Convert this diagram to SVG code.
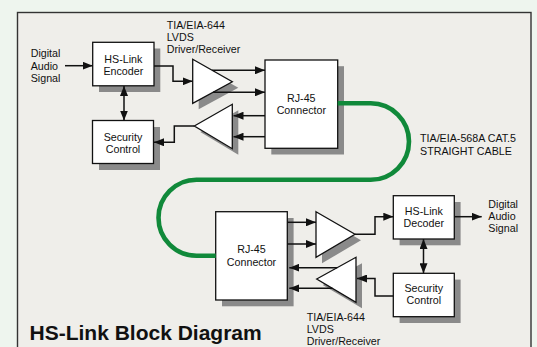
<svg xmlns="http://www.w3.org/2000/svg" width="537" height="347" viewBox="0 0 537 347">
<style>
text{font-family:"Liberation Sans",Arial,sans-serif;font-size:10.7px;fill:#111}
.c{text-anchor:middle}
.box{fill:#fff;stroke:#111;stroke-width:1.3}
.sh{fill:#8a8a8a}
.ln{fill:none;stroke:#111;stroke-width:1.5}
.cable{fill:none;stroke:#10893a;stroke-width:4.6}
.title{font-size:21px;font-weight:bold}
</style>
<defs>
<marker id="ah" viewBox="0 0 10 8" refX="10" refY="4" markerWidth="10" markerHeight="8" markerUnits="userSpaceOnUse" orient="auto-start-reverse">
<path d="M0,0 L10,4 L0,8 z" fill="#111"/>
</marker>
</defs>
<rect x="0" y="0" width="537" height="347" fill="#eef5ee"/>
<rect x="17.5" y="12.5" width="513.5" height="345" fill="#efeeea" stroke="#333" stroke-width="1.4"/>

<g id="input-label">
<text x="30.7" y="57">Digital</text>
<text x="30.7" y="69.5">Audio</text>
<text x="30.7" y="82">Signal</text>
</g>
<g id="encoder">
<rect class="sh" x="99" y="48.5" width="61.3" height="43.5"/>
<rect class="box" x="92.7" y="42.3" width="61.3" height="43.5"/>
<text class="c" x="123.3" y="63.2">HS-Link</text>
<text class="c" x="123.3" y="75">Encoder</text>
</g>
<g id="security-top">
<rect class="sh" x="99" y="127" width="61" height="43"/>
<rect class="box" x="92.5" y="120.5" width="61" height="43"/>
<text class="c" x="123" y="140.6">Security</text>
<text class="c" x="123" y="152.8">Control</text>
</g>
<g id="driver-top">
<polygon class="sh" points="198.7,65.3 238.3,87.7 198.7,109.3"/>
<polygon class="box" points="192.7,59.3 232.3,81.7 192.7,103.3"/>
</g>
<g id="receiver-top">
<polygon class="sh" points="200.3,132 238.3,110.3 238.3,154.7"/>
<polygon class="box" points="194.3,126 232.3,104.3 232.3,148.7"/>
</g>
<g id="lvds-top-label">
<text x="166.7" y="28.6">TIA/EIA-644</text>
<text x="166.7" y="40.6">LVDS</text>
<text x="166.7" y="52.6">Driver/Receiver</text>
</g>
<g id="rj45-top">
<rect class="sh" x="271.3" y="66.2" width="72.7" height="88.3"/>
<rect class="box" x="265" y="60" width="72.7" height="88.3"/>
<text class="c" x="301.3" y="102">RJ-45</text>
<text class="c" x="301.3" y="113.8">Connector</text>
</g>
<g id="cable-label">
<text x="420" y="142">TIA/EIA-568A CAT.5</text>
<text x="420" y="154.5">STRAIGHT CABLE</text>
</g>
<g id="rj45-bottom">
<rect class="sh" x="222" y="218" width="71.6" height="88.3"/>
<rect class="box" x="215.7" y="211.7" width="71.6" height="88.3"/>
<text class="c" x="251.5" y="253.1">RJ-45</text>
<text class="c" x="251.5" y="265.5">Connector</text>
</g>
<g id="driver-bottom">
<polygon class="sh" points="322,217.7 361,240.3 322,263.3"/>
<polygon class="box" points="316,211.7 355,234.3 316,257.3"/>
</g>
<g id="receiver-bottom">
<polygon class="sh" points="322.7,285 362,263.3 362,308.3"/>
<polygon class="box" points="316.7,279 356,257.3 356,302.3"/>
</g>
<g id="decoder">
<rect class="sh" x="399.6" y="202" width="61" height="43.3"/>
<rect class="box" x="393.3" y="195.7" width="61" height="43.3"/>
<text class="c" x="423.8" y="214.8">HS-Link</text>
<text class="c" x="423.8" y="226.5">Decoder</text>
</g>
<g id="security-bottom">
<rect class="sh" x="399.6" y="279.6" width="61" height="43.4"/>
<rect class="box" x="393.3" y="273.3" width="61" height="43.4"/>
<text class="c" x="423.8" y="292.1">Security</text>
<text class="c" x="423.8" y="303.9">Control</text>
</g>
<g id="output-label">
<text x="488.3" y="208">Digital</text>
<text x="488.3" y="220">Audio</text>
<text x="488.3" y="232">Signal</text>
</g>
<g id="lvds-bottom-label">
<text x="306.7" y="320.5">TIA/EIA-644</text>
<text x="306.7" y="332.8">LVDS</text>
<text x="306.7" y="345">Driver/Receiver</text>
</g>
<text class="title" x="29.5" y="340">HS-Link Block Diagram</text>

<g id="connectors">
<path class="cable" d="M337.7,103.3 H370.75 A38.25,38.25 0 0 1 370.75,179.8 H196.5 A38,38 0 0 0 196.5,255.8 H215.7"/>
<path class="ln" marker-end="url(#ah)" d="M65,65.7 H92.7"/>
<path class="ln" marker-end="url(#ah)" d="M154,66 H173 V81.3 H192.7"/>
<path class="ln" marker-start="url(#ah)" marker-end="url(#ah)" d="M124,86 V120.5"/>
<path class="ln" marker-end="url(#ah)" d="M212,70.3 H265"/>
<path class="ln" marker-end="url(#ah)" d="M213,92.3 H265"/>
<path class="ln" marker-end="url(#ah)" d="M265,115.7 H233.5"/>
<path class="ln" marker-end="url(#ah)" d="M265,136.7 H233.5"/>
<path class="ln" marker-end="url(#ah)" d="M194.3,126 H174.3 V142.3 H154"/>
<path class="ln" marker-end="url(#ah)" d="M287.3,222.3 H316"/>
<path class="ln" marker-end="url(#ah)" d="M287.3,244 H316"/>
<path class="ln" marker-end="url(#ah)" d="M355,234.3 H375 V216.7 H393.3"/>
<path class="ln" marker-end="url(#ah)" d="M454.3,216.7 H481.7"/>
<path class="ln" marker-start="url(#ah)" marker-end="url(#ah)" d="M423.5,239 V273.3"/>
<path class="ln" marker-end="url(#ah)" d="M393.3,296 H375 V278.5 H357"/>
<path class="ln" marker-end="url(#ah)" d="M337.2,267.7 H289.3"/>
<path class="ln" marker-end="url(#ah)" d="M332.4,288.3 H289.3"/>
</g>
</svg>
